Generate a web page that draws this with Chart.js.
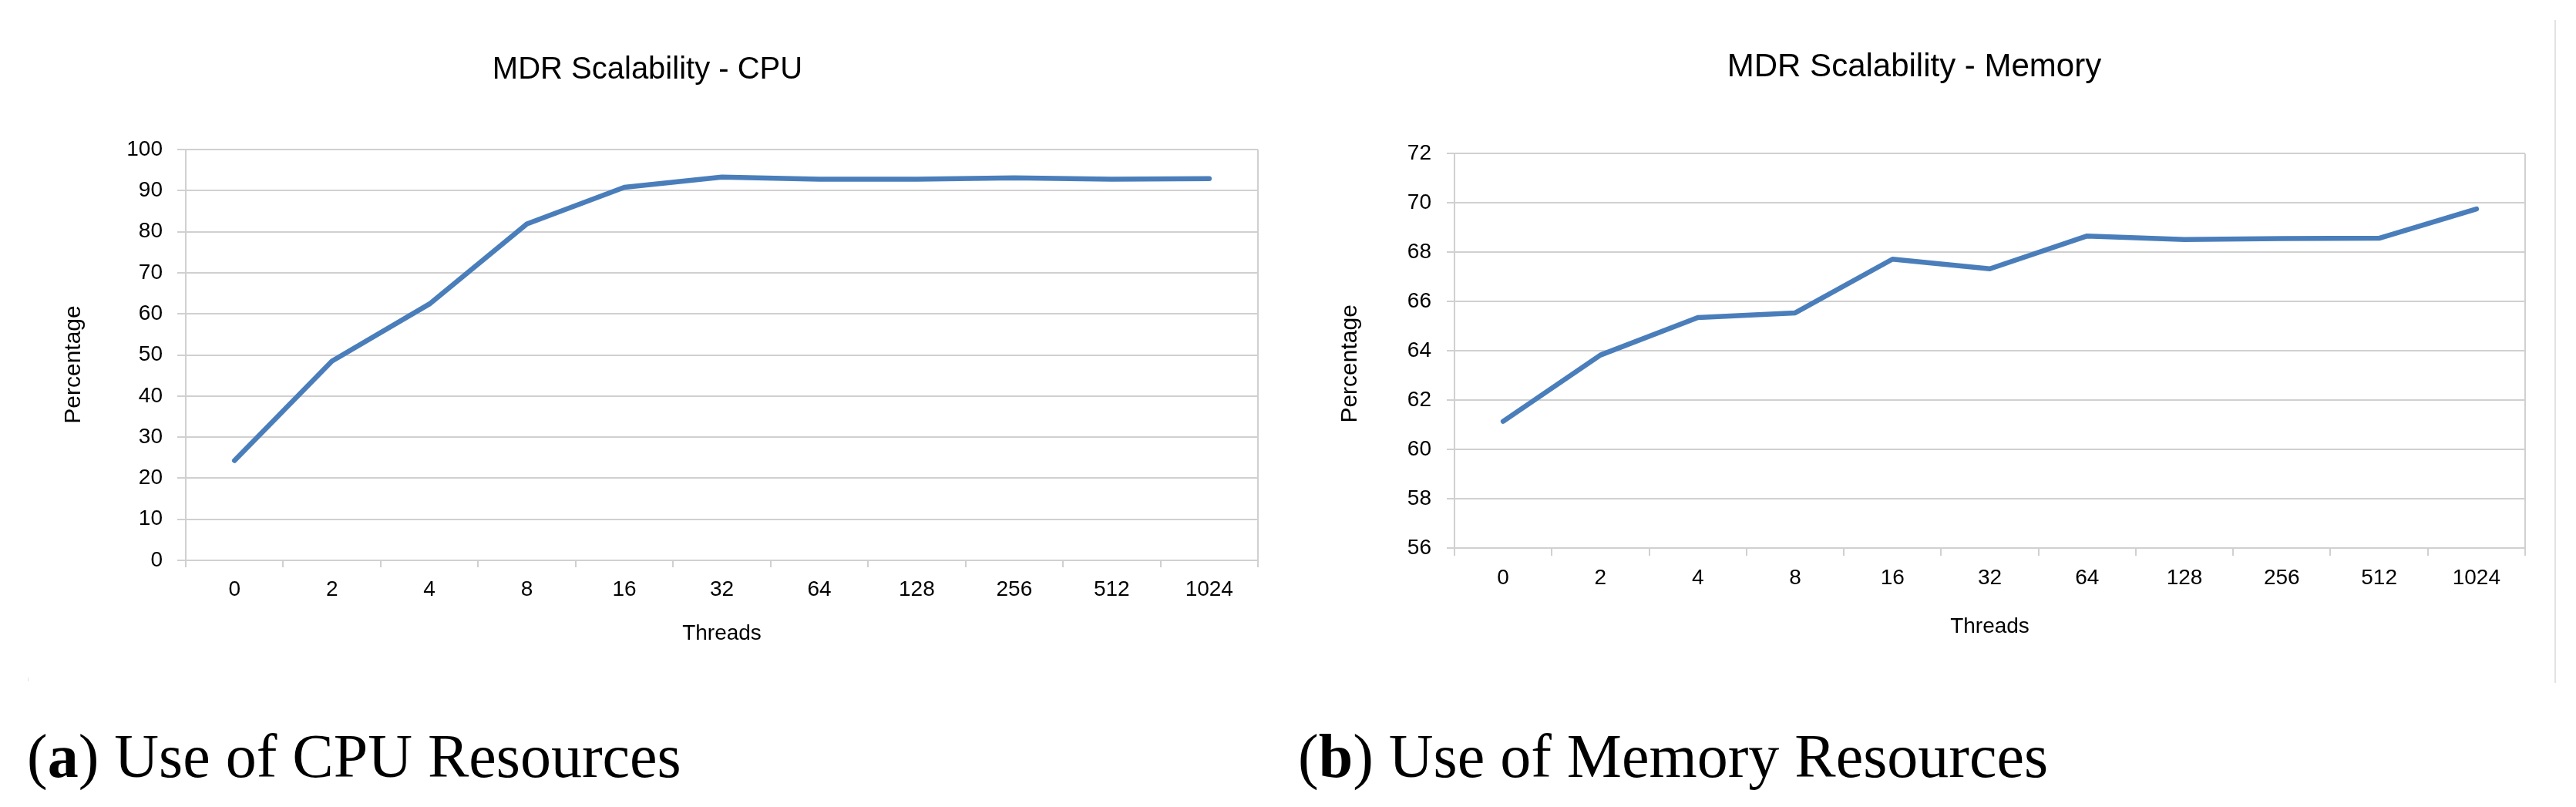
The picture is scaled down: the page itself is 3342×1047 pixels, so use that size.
<!DOCTYPE html>
<html>
<head>
<meta charset="utf-8">
<script src="https://cdn.jsdelivr.net/npm/chart.js@4.4.1/dist/chart.umd.min.js"></script>
<style>
  html, body { margin: 0; padding: 0; background: #ffffff; }
  body { width: 3342px; height: 1047px; position: relative; overflow: hidden; }
  canvas { position: absolute; top: 0; }
  #cpu { left: 0; }
  #mem { left: 1671px; }
  .cap { position: absolute; font-family: "Liberation Serif", "Times New Roman", serif; font-size: 80px; line-height: 80px; color: #000; white-space: nowrap; }
  .edge { position: absolute; background: #e2e2e2; }
</style>
</head>
<body>
<canvas id="cpu" width="1671" height="890"></canvas>
<canvas id="mem" width="1671" height="890"></canvas>
<div class="cap" style="left:35px; top:941px;">(<b>a</b>) Use of CPU Resources</div>
<div class="cap" style="left:1684px; top:941px;">(<b>b</b>) Use of Memory Resources</div>
<div class="edge" style="left:3314px; top:26px; width:2px; height:860px;"></div>
<div class="edge" style="left:36px; top:879px; width:1px; height:5px;"></div>
<script>
// ---- data ----
const threads = ['0', '2', '4', '8', '16', '32', '64', '128', '256', '512', '1024'];
const cpuUsage = [24.3, 48.5, 62.4, 81.9, 90.8, 93.3, 92.8, 92.8, 93.1, 92.8, 92.9];
const memoryUsage = [61.14, 63.83, 65.35, 65.54, 67.72, 67.33, 68.66, 68.52, 68.56, 68.57, 69.76];
const cpuAxisRange = [0, 100, 10];     // min, max, step
const memAxisRange = [56, 72, 2];      // min, max, step
const cpuTitle = 'MDR Scalability - CPU';
const memTitle = 'MDR Scalability - Memory';
const xAxisTitle = 'Threads';
const yAxisTitle = 'Percentage';

// ---- styling ----
const FONT = '"Liberation Sans", Arial, Helvetica, sans-serif';
const GRID = '#d0d0d0';
const LINE = '#4a7ebb';
const TEXT = '#000000';

function makeChart(id, values, range, title, L) {
  const ctx = document.getElementById(id).getContext('2d');
  return new Chart(ctx, {
    type: 'line',
    data: {
      labels: threads,
      datasets: [{
        data: values,
        borderColor: LINE,
        backgroundColor: LINE,
        borderWidth: 6.5,
        pointRadius: 0,
        pointHoverRadius: 0,
        tension: 0,
        fill: false,
        borderCapStyle: 'round',
        borderJoinStyle: 'round'
      }]
    },
    options: {
      responsive: false,
      animation: false,
      devicePixelRatio: 1,
      events: [],
      layout: { padding: { left: L.padLeft, right: L.padRight, top: 0, bottom: L.padBottom } },
      plugins: {
        legend: { display: false },
        tooltip: { enabled: false },
        title: {
          display: true,
          text: title,
          color: TEXT,
          font: { family: FONT, size: L.titleSize, weight: 'normal', lineHeight: 1.2 },
          padding: { top: L.titleTop, bottom: L.titleBottom }
        }
      },
      scales: {
        x: {
          offset: true,
          grid: {
            offset: true,
            drawOnChartArea: true,
            drawTicks: true,
            tickLength: L.xTick,
            lineWidth: 2,
            color: (c) => (c.index === undefined || c.index === 0) ? GRID : 'rgba(0,0,0,0)',
            tickColor: GRID
          },
          border: { display: true, color: GRID, width: 2 },
          ticks: {
            color: TEXT,
            font: { family: FONT, size: 28 },
            padding: L.xPad,
            maxRotation: 0,
            autoSkip: false
          },
          title: {
            display: true,
            text: xAxisTitle,
            color: TEXT,
            font: { family: FONT, size: 28 },
            padding: { top: 0, bottom: 0 }
          },
          afterFit: (s) => { s.height = L.xHeight; }
        },
        y: {
          min: range[0],
          max: range[1],
          grid: {
            color: GRID,
            lineWidth: 2,
            drawTicks: true,
            tickLength: L.yTick,
            tickColor: GRID
          },
          border: { display: true, color: GRID, width: 2 },
          ticks: {
            stepSize: range[2],
            color: TEXT,
            font: { family: FONT, size: 28 },
            padding: L.yPad
          },
          title: {
            display: true,
            // trailing spaces push the visible word a little below the axis centre, as in the reference
            text: yAxisTitle + ' '.repeat(L.yTitleShift),
            color: TEXT,
            font: { family: FONT, size: 30 },
            padding: { top: L.yTitlePad, bottom: 0 }
          },
          afterFit: (s) => { s.width = L.yWidth; }
        }
      }
    }
  });
}

makeChart('cpu', cpuUsage, cpuAxisRange, cpuTitle, {
  padLeft: 48, padRight: 39, padBottom: 51,
  titleSize: 40, titleTop: 67, titleBottom: 79,
  xTick: 9, xPad: 12, xHeight: 112,
  yTick: 11, yPad: 19, yWidth: 193, yTitlePad: 30, yTitleShift: 3
});

makeChart('mem', memoryUsage, memAxisRange, memTitle, {
  padLeft: 20, padRight: 66, padBottom: 60,
  titleSize: 42, titleTop: 62, titleBottom: 87,
  xTick: 10, xPad: 12, xHeight: 119,
  yTick: 10, yPad: 20, yWidth: 196, yTitlePad: 43, yTitleShift: 4
});
</script>
</body>
</html>
